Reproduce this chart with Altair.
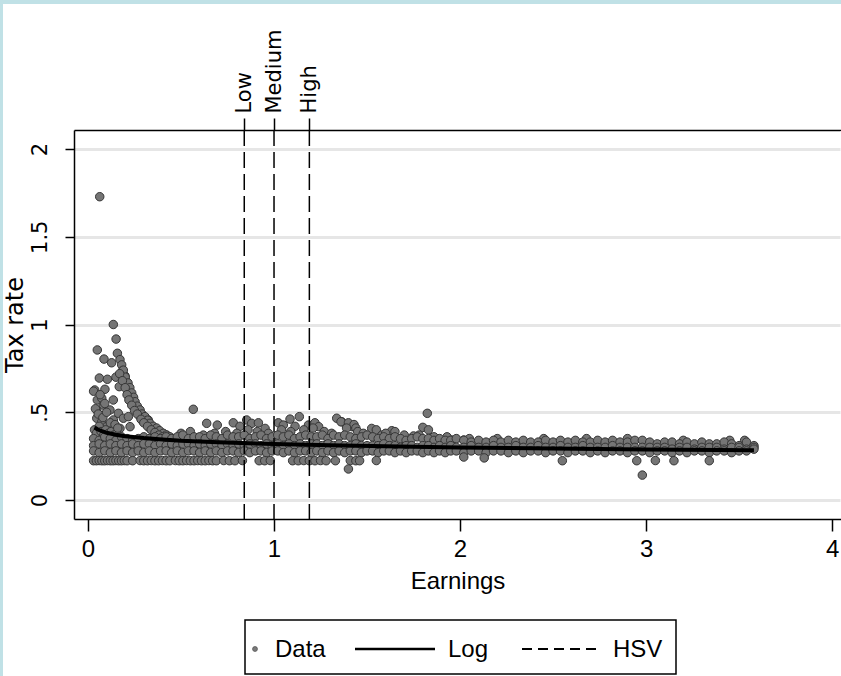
import altair as alt
import pandas as pd

# ---------------- data ----------------
hump_x = [0.063, 0.136, 0.151, 0.05, 0.158, 0.086, 0.127, 0.172, 0.181, 0.186,
          0.061, 0.104, 0.15, 0.199, 0.208, 0.036, 0.091, 0.168, 0.217, 0.222,
          0.05, 0.074, 0.082, 0.136, 0.235, 0.244, 0.047, 0.118, 0.163, 0.262,
          0.28, 0.047, 0.074, 0.136, 0.19, 0.217, 0.297, 0.324, 0.10, 0.172,
          0.226, 0.333, 0.351, 0.387, 0.423]
hump_y = [1.728, 1.00, 0.917, 0.855, 0.836, 0.803, 0.782, 0.80, 0.77, 0.737,
          0.695, 0.688, 0.70, 0.707, 0.674, 0.627, 0.631, 0.646, 0.636, 0.589,
          0.57, 0.58, 0.541, 0.57, 0.57, 0.532, 0.513, 0.513, 0.494, 0.503,
          0.475, 0.466, 0.446, 0.456, 0.466, 0.475, 0.446, 0.456, 0.418, 0.408,
          0.418, 0.408, 0.389, 0.37, 0.37]

mid_x = [0.566, 0.638, 0.695, 0.781, 0.817, 0.853, 0.88, 0.916, 0.952, 1.023,
         1.05, 1.086, 1.113, 1.136, 1.185, 1.22, 1.24, 1.337, 1.364, 1.39,
         1.42, 1.824, 1.80, 1.83, 1.36, 1.40, 1.43, 1.44, 1.39, 1.525,
         1.55, 1.633, 1.65, 1.75, 1.955, 2.02]
mid_y = [0.517, 0.437, 0.427, 0.44, 0.42, 0.456, 0.437, 0.44, 0.408, 0.44,
         0.427, 0.461, 0.42, 0.475, 0.427, 0.44, 0.418, 0.466, 0.446, 0.427,
         0.418, 0.494, 0.414, 0.40, 0.446, 0.44, 0.43, 0.41, 0.41, 0.408,
         0.40, 0.395, 0.39, 0.365, 0.342, 0.342]

tail_x = [0.19, 0.2, 0.215, 0.225, 0.235, 0.245, 0.253, 0.265, 0.28, 0.29,
          0.306, 0.32, 0.333, 0.35, 0.369, 0.385, 0.405, 0.42, 0.44, 0.46,
          0.17, 0.185, 0.2, 0.21, 0.22, 0.235, 0.25, 0.265, 0.285, 0.30,
          0.32, 0.34, 0.36, 0.38, 0.40]
tail_y = [0.74, 0.70, 0.667, 0.64, 0.61, 0.585, 0.56, 0.535, 0.513, 0.49,
          0.475, 0.455, 0.437, 0.42, 0.41, 0.395, 0.38, 0.37, 0.36, 0.35,
          0.72, 0.68, 0.64, 0.60, 0.57, 0.54, 0.51, 0.49, 0.46, 0.44,
          0.42, 0.40, 0.385, 0.37, 0.36]

left_x = [0.035, 0.045, 0.06, 0.07, 0.085, 0.095, 0.11, 0.125, 0.14, 0.155,
          0.04, 0.055, 0.08, 0.1, 0.12, 0.145, 0.16, 0.03, 0.065, 0.09]
left_y = [0.40, 0.38, 0.42, 0.39, 0.37, 0.40, 0.38, 0.39, 0.37, 0.38,
          0.52, 0.49, 0.47, 0.50, 0.44, 0.43, 0.41, 0.62, 0.60, 0.55]

above_x = [0.50, 0.55, 0.62, 0.68, 0.74, 0.80, 0.86, 0.91, 0.97, 1.04,
           1.09, 1.16, 1.21, 1.27, 1.31, 1.45, 1.48, 1.58, 1.60, 1.70,
           1.78, 1.86, 1.93, 2.05, 2.20, 2.45, 2.68, 2.90, 3.20, 3.45, 3.53]
above_y = [0.38, 0.39, 0.37, 0.38, 0.39, 0.38, 0.40, 0.39, 0.38, 0.40,
           0.39, 0.40, 0.41, 0.39, 0.38, 0.39, 0.38, 0.37, 0.38, 0.37,
           0.37, 0.36, 0.36, 0.35, 0.35, 0.35, 0.35, 0.35, 0.34, 0.34, 0.34]

band_x = [0.03, 0.06, 0.09, 0.12, 0.15, 0.18, 0.21, 0.24, 0.27, 0.30,
          0.33, 0.36, 0.39, 0.42, 0.45, 0.48, 0.51, 0.54, 0.57, 0.60,
          0.63, 0.66, 0.69, 0.72, 0.75, 0.78, 0.81, 0.84, 0.87, 0.90,
          0.93, 0.96, 0.99, 1.02, 1.05, 1.08, 1.11, 1.14, 1.17, 1.20,
          1.23, 1.26, 1.29, 1.32, 1.35, 1.38, 1.41, 1.44, 1.47, 1.50,
          1.53, 1.56, 1.59, 1.62, 1.65, 1.68, 1.71, 1.74, 1.77, 1.80,
          1.83, 1.86, 1.89, 1.92, 1.95, 1.98, 2.02, 2.06, 2.10, 2.14,
          2.18, 2.22, 2.26, 2.30, 2.34, 2.38, 2.42, 2.46, 2.50, 2.54,
          2.58, 2.62, 2.66, 2.70, 2.74, 2.78, 2.82, 2.86, 2.90, 2.94,
          2.98, 3.02, 3.06, 3.10, 3.14, 3.18, 3.22, 3.26, 3.30, 3.34,
          3.38, 3.42, 3.46, 3.50, 3.54, 3.58]
band_high = [0.35, 0.34, 0.36, 0.35, 0.34, 0.36, 0.35, 0.34, 0.35, 0.36,
             0.35, 0.36, 0.35, 0.36, 0.35, 0.36, 0.37, 0.35, 0.36, 0.36,
             0.35, 0.37, 0.36, 0.35, 0.37, 0.36, 0.36, 0.37, 0.35, 0.36,
             0.37, 0.35, 0.36, 0.37, 0.36, 0.37, 0.35, 0.36, 0.37, 0.36,
             0.36, 0.37, 0.35, 0.37, 0.36, 0.37, 0.36, 0.35, 0.36, 0.37,
             0.36, 0.35, 0.36, 0.35, 0.36, 0.35, 0.34, 0.35, 0.36, 0.35,
             0.35, 0.34, 0.35, 0.34, 0.34, 0.35, 0.34, 0.33, 0.34, 0.33,
             0.34, 0.33, 0.34, 0.33, 0.34, 0.33, 0.33, 0.34, 0.33, 0.34,
             0.33, 0.34, 0.33, 0.33, 0.34, 0.33, 0.34, 0.33, 0.33, 0.34,
             0.34, 0.33, 0.32, 0.33, 0.33, 0.32, 0.33, 0.32, 0.33, 0.32,
             0.32, 0.33, 0.32, 0.31, 0.33, 0.31]
band_mid = [0.31, 0.32, 0.31, 0.32, 0.31, 0.32, 0.31, 0.32, 0.31, 0.32,
            0.32, 0.31, 0.32, 0.31, 0.32, 0.31, 0.32, 0.32, 0.31, 0.32,
            0.31, 0.32, 0.32, 0.31, 0.32, 0.31, 0.32, 0.31, 0.32, 0.32,
            0.31, 0.32, 0.31, 0.32, 0.31, 0.32, 0.31, 0.32, 0.31, 0.32,
            0.32, 0.31, 0.32, 0.31, 0.32, 0.31, 0.31, 0.32, 0.31, 0.31,
            0.31, 0.31, 0.32, 0.31, 0.31, 0.30, 0.31, 0.31, 0.30, 0.31,
            0.31, 0.30, 0.31, 0.30, 0.31, 0.30, 0.30, 0.31, 0.30, 0.30,
            0.31, 0.30, 0.30, 0.31, 0.30, 0.30, 0.31, 0.30, 0.30, 0.31,
            0.30, 0.30, 0.31, 0.30, 0.30, 0.30, 0.31, 0.30, 0.30, 0.30,
            0.30, 0.30, 0.30, 0.30, 0.29, 0.30, 0.30, 0.29, 0.30, 0.30,
            0.30, 0.29, 0.30, 0.30, 0.29, 0.30]
band_low = [0.28, 0.27, 0.28, 0.27, 0.28, 0.27, 0.28, 0.27, 0.28, 0.27,
            0.28, 0.27, 0.28, 0.28, 0.27, 0.28, 0.27, 0.28, 0.28, 0.27,
            0.28, 0.27, 0.28, 0.27, 0.28, 0.28, 0.27, 0.28, 0.27, 0.28,
            0.28, 0.27, 0.28, 0.28, 0.27, 0.28, 0.27, 0.28, 0.28, 0.27,
            0.28, 0.27, 0.28, 0.27, 0.28, 0.27, 0.28, 0.28, 0.27, 0.28,
            0.28, 0.27, 0.28, 0.28, 0.27, 0.28, 0.27, 0.28, 0.28, 0.27,
            0.28, 0.27, 0.28, 0.27, 0.28, 0.28, 0.27, 0.28, 0.28, 0.27,
            0.28, 0.28, 0.27, 0.28, 0.27, 0.28, 0.28, 0.27, 0.28, 0.28,
            0.27, 0.28, 0.28, 0.27, 0.28, 0.27, 0.28, 0.28, 0.27, 0.28,
            0.28, 0.27, 0.28, 0.28, 0.27, 0.28, 0.27, 0.28, 0.28, 0.27,
            0.28, 0.28, 0.27, 0.28, 0.28, 0.29]

floor_x = [0.03, 0.045, 0.06, 0.075, 0.09, 0.105, 0.12, 0.135, 0.15, 0.165,
           0.18, 0.195, 0.21, 0.24, 0.28, 0.30, 0.32, 0.34, 0.36, 0.38,
           0.40, 0.42, 0.44, 0.47, 0.49, 0.51, 0.53, 0.55, 0.57, 0.59,
           0.61, 0.63, 0.65, 0.67, 0.69, 0.73, 0.76, 0.79, 0.83, 0.92,
           0.95, 0.98, 1.10, 1.13, 1.16, 1.19, 1.22, 1.25, 1.28, 1.33,
           1.41, 1.44, 1.46, 1.55, 2.55, 2.95, 3.05, 3.15, 3.34, 2.02,
           2.13, 1.40, 2.98]
floor_y = [0.224, 0.224, 0.225, 0.224, 0.224, 0.225, 0.224, 0.224, 0.225, 0.224,
           0.224, 0.225, 0.224, 0.224, 0.225, 0.224, 0.224, 0.225, 0.224, 0.224,
           0.225, 0.224, 0.224, 0.225, 0.224, 0.224, 0.225, 0.224, 0.224, 0.225,
           0.224, 0.224, 0.225, 0.224, 0.224, 0.225, 0.224, 0.224, 0.225, 0.224,
           0.224, 0.225, 0.224, 0.224, 0.225, 0.224, 0.224, 0.225, 0.224, 0.224,
           0.225, 0.224, 0.224, 0.225, 0.224, 0.224, 0.225, 0.224, 0.224, 0.245,
           0.24, 0.177, 0.142]

# fitted log curve
log_x = [0.035, 0.05, 0.075, 0.1, 0.15, 0.2, 0.3, 0.4, 0.5, 0.7,
         1.0, 1.3, 1.6, 2.0, 2.5, 3.0, 3.58]
log_y = [0.413, 0.403, 0.392, 0.383, 0.372, 0.364, 0.353, 0.345, 0.338, 0.329,
         0.319, 0.312, 0.306, 0.300, 0.293, 0.288, 0.283]

# HSV cut-offs
hsv_x = [0.84, 1.0, 1.19]
hsv_labels = ["Low", "Medium", "High"]

x_ticks = [0, 1, 2, 3, 4]
y_ticks = [0, 0.5, 1, 1.5, 2]
y_tick_labels = ["0", ".5", "1", "1.5", "2"]
legend_labels = ["Data", "Log", "HSV"]

# ---------------- build tables ----------------
all_x = hump_x + mid_x + tail_x + left_x + above_x + band_x + band_x + band_x + floor_x
all_y = hump_y + mid_y + tail_y + left_y + above_y + band_high + band_mid + band_low + floor_y
n = min(len(all_x), len(all_y))
pts_df = pd.DataFrame({"earn": all_x[:n], "rate": all_y[:n]})
log_df = pd.DataFrame({"earn": log_x, "rate": log_y})
hsv_df = pd.DataFrame({"cut": hsv_x, "name": hsv_labels})
one = pd.DataFrame({"k": [0]})

W, H = 767, 389
SANS = "Liberation Sans, Arial, sans-serif"
WIDE = "DejaVu Sans, sans-serif"
TXT = 24

x_scale = alt.Scale(domain=[-0.0753, 4.048], nice=False, zero=False)
y_scale = alt.Scale(domain=[-0.108, 2.108], nice=False, zero=False)

y_expr = "[" + ",".join("'%s'" % s for s in y_tick_labels) + "][round(datum.value*2)]"
top_expr = ("datum.value < %g ? '%s' : datum.value < %g ? '%s' : '%s'"
            % ((hsv_x[0] + hsv_x[1]) / 2, hsv_labels[0],
               (hsv_x[1] + hsv_x[2]) / 2, hsv_labels[1], hsv_labels[2]))

x_axis = alt.Axis(values=x_ticks, format="d", title="Earnings", grid=False,
                  labelFont=SANS, labelFontSize=TXT, labelColor="black",
                  titleFont=SANS, titleFontSize=TXT, titleFontWeight="normal",
                  titleColor="black", tickColor="black", tickSize=12, tickWidth=1.5,
                  domainColor="black", domainWidth=1.5, labelPadding=6,
                  titlePadding=8, labelFlush=False, labelOverlap=False)


def make_y_axis():
    return alt.Axis(values=y_ticks, labelExpr=y_expr, title="Tax rate",
                    labelAngle=-90, labelAlign="center", labelBaseline="bottom",
                    labelFont=WIDE, labelFontSize=21, labelColor="black",
                    labelPadding=15, tickSize=9, tickColor="black", tickWidth=1.5,
                    domainColor="black", domainWidth=1.5,
                    grid=True, gridColor="#e6e6e6", gridWidth=3,
                    titleFont=WIDE, titleFontSize=24, titleFontWeight="normal",
                    titleColor="black", titleAngle=-90, titleBaseline="bottom",
                    titleAlign="center", titleX=-47, titleY=H / 2,
                    labelFlush=False, labelOverlap=False)


top_axis = alt.Axis(orient="top", values=hsv_x, labelExpr=top_expr, title=None,
                    grid=False, labelAngle=-90, labelAlign="left",
                    labelBaseline="middle", labelFont=WIDE, labelFontSize=21,
                    labelColor="black", labelPadding=5, tickSize=12,
                    tickColor="black", tickWidth=1.5, domainColor="black",
                    domainWidth=1.5, labelFlush=False, labelOverlap=False)

# decorative light-blue page border (top and left)
strip_top = alt.Chart(one).mark_rect(color="#c0e1e6").encode(
    x=alt.value(-74), x2=alt.value(W), y=alt.value(-130), y2=alt.value(-126))
strip_left = alt.Chart(one).mark_rect(color="#c0e1e6").encode(
    x=alt.value(-74), x2=alt.value(-71), y=alt.value(-130), y2=alt.value(H + 157))

scatter = alt.Chart(pts_df).mark_point(
    shape="circle", filled=True, size=72, fill="#757575", stroke="#363636",
    strokeWidth=1, opacity=1).encode(
    x=alt.X("earn:Q", scale=x_scale, axis=x_axis),
    y=alt.Y("rate:Q", scale=y_scale, axis=make_y_axis()))

logline = alt.Chart(log_df).mark_line(color="black", strokeWidth=4).encode(
    x=alt.X("earn:Q", scale=x_scale, axis=None),
    y=alt.Y("rate:Q", scale=y_scale, axis=make_y_axis()))

hsv = alt.Chart(hsv_df).mark_rule(color="black", strokeWidth=1.5,
                                  strokeDash=[16, 6]).encode(
    x=alt.X("cut:Q", scale=x_scale, axis=top_axis))

# legend (manual, boxed)
leg_box = alt.Chart(one).mark_rect(fill="white", stroke="black", strokeWidth=1.5).encode(
    x=alt.value(171), x2=alt.value(602), y=alt.value(490), y2=alt.value(544))
leg_dot = alt.Chart(one).mark_point(shape="circle", filled=True, size=24,
                                    fill="#7a7a7a", stroke="#555555",
                                    strokeWidth=0.8, opacity=1).encode(
    x=alt.value(181), y=alt.value(519))
leg_line = alt.Chart(one).mark_rule(color="black", strokeWidth=2.5).encode(
    x=alt.value(281), x2=alt.value(361), y=alt.value(519))
leg_dash = alt.Chart(one).mark_rule(color="black", strokeWidth=1.8,
                                    strokeDash=[10, 6]).encode(
    x=alt.value(448), x2=alt.value(526), y=alt.value(519))


def leg_text(label, xpos):
    return alt.Chart(one).mark_text(align="left", baseline="alphabetic",
                                    font=SANS, fontSize=TXT, color="black").encode(
        x=alt.value(xpos), y=alt.value(527), text=alt.value(label))


# white mask over the (absent) right edge of the frame, drawn last
right_mask = alt.Chart(one).mark_rect(color="white").encode(
    x=alt.value(W - 0.5), x2=alt.value(W + 4), y=alt.value(1), y2=alt.value(H - 1))

chart = alt.layer(
    strip_top, strip_left, scatter, logline, hsv,
    leg_box, leg_dot, leg_line, leg_dash,
    leg_text(legend_labels[0], 201), leg_text(legend_labels[1], 374),
    leg_text(legend_labels[2], 539), right_mask,
).resolve_axis(x="independent", y="shared").properties(
    width=W, height=H,
    padding={"left": 74, "top": 130, "right": 0, "bottom": 157},
    autosize=alt.AutoSizeParams(type="none"),
    background="white",
).configure_view(stroke=None, strokeWidth=0, strokeOpacity=0)

chart.save("out.html", embed_options={"renderer": "svg", "actions": False})
